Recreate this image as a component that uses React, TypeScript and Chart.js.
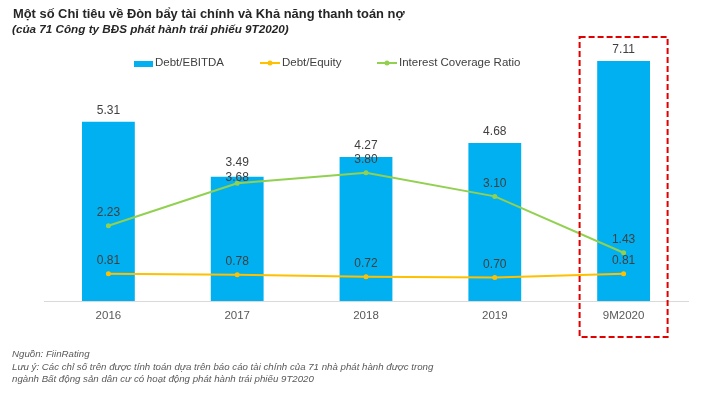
import React, { useEffect, useRef } from "react";
import { Chart, registerables } from "chart.js";

Chart.register(...registerables);

const categories = ["2016", "2017", "2018", "2019", "9M2020"];
const debtEbitda = [5.31, 3.68, 4.27, 4.68, 7.11];
const debtEquity = [0.81, 0.78, 0.72, 0.7, 0.81];
const interestCoverage = [2.23, 3.49, 3.8, 3.1, 1.43];
const seriesNames = ["Debt/EBITDA", "Debt/Equity", "Interest Coverage Ratio"];

const titleText = "Một số Chỉ tiêu về Đòn bẩy tài chính và Khả năng thanh toán nợ";
const subtitleText = "(của 71 Công ty BĐS phát hành trái phiếu 9T2020)";
const footLines = [
  "Nguồn: FiinRating",
  "Lưu ý: Các chỉ số trên được tính toán dựa trên báo cáo tài chính của 71 nhà phát hành được trong",
  "ngành Bất động sản dân cư có hoạt động phát hành trái phiếu 9T2020",
];

const FONT = "'Liberation Sans', Arial, sans-serif";
const BLUE = "#00b0f0";
const GOLD = "#ffc000";
const GREEN = "#92d050";

const decorPlugin = {
  id: "decor",
  afterDraw(chart: any) {
    const ctx = chart.ctx as CanvasRenderingContext2D;
    ctx.save();
    // Title
    ctx.textBaseline = "middle";
    ctx.textAlign = "left";
    ctx.fillStyle = "#262626";
    ctx.font = `bold 12.9px ${FONT}`;
    ctx.fillText(titleText, 13, 14);
    ctx.font = `italic bold 11.7px ${FONT}`;
    ctx.fillText(subtitleText, 12, 30);

    // Legend
    ctx.font = `11.5px ${FONT}`;
    ctx.fillStyle = BLUE;
    ctx.fillRect(134, 61, 19, 6);
    ctx.fillStyle = "#404040";
    ctx.fillText(seriesNames[0], 155, 63);

    const drawLineKey = (x: number, color: string, label: string) => {
      ctx.strokeStyle = color;
      ctx.lineWidth = 2;
      ctx.beginPath();
      ctx.moveTo(x, 63);
      ctx.lineTo(x + 20, 63);
      ctx.stroke();
      ctx.fillStyle = color;
      ctx.beginPath();
      ctx.arc(x + 10, 63, 2.5, 0, Math.PI * 2);
      ctx.fill();
      ctx.fillStyle = "#404040";
      ctx.fillText(label, x + 22, 63);
    };
    drawLineKey(260, GOLD, seriesNames[1]);
    drawLineKey(377, GREEN, seriesNames[2]);

    // Footnotes
    ctx.font = `italic 9.7px ${FONT}`;
    ctx.fillStyle = "#595959";
    const fy = [354, 367, 379];
    footLines.forEach((t, i) => ctx.fillText(t, 12, fy[i]));

    // Red dashed highlight around last category
    const xs = chart.scales.x;
    const cx = xs.getPixelForValue(categories.length - 1);
    ctx.strokeStyle = "#e00000";
    ctx.lineWidth = 2;
    ctx.setLineDash([6, 3]);
    ctx.strokeRect(cx - 44, 37, 88, 300);
    ctx.restore();
  },
};

// label offsets above element (px); per-point overrides keyed by dataset/index
const labelOffsets = [11, 13, 13];
const labelOverrides: Record<string, number> = { "0-1": -1, "2-1": 21 };

const labelPlugin = {
  id: "valueLabels",
  afterDatasetsDraw(chart: any) {
    const ctx = chart.ctx as CanvasRenderingContext2D;
    ctx.save();
    ctx.font = `12px ${FONT}`;
    ctx.fillStyle = "#404040";
    ctx.textAlign = "center";
    ctx.textBaseline = "middle";
    chart.data.datasets.forEach((ds: any, di: number) => {
      const meta = chart.getDatasetMeta(di);
      meta.data.forEach((el: any, i: number) => {
        const key = `${di}-${i}`;
        const off = key in labelOverrides ? labelOverrides[key] : labelOffsets[di];
        ctx.fillText((ds.data[i] as number).toFixed(2), el.x, el.y - off);
      });
    });
    ctx.restore();
  },
};

export default function App() {
  const ref = useRef<HTMLCanvasElement | null>(null);
  useEffect(() => {
    if (!ref.current) return;
    const chart = new Chart(ref.current, {
      type: "bar",
      data: {
        labels: categories,
        datasets: [
          {
            type: "bar",
            label: seriesNames[0],
            data: debtEbitda,
            backgroundColor: BLUE,
            barPercentage: 0.41,
            categoryPercentage: 1,
            order: 3,
          },
          {
            type: "line",
            label: seriesNames[1],
            data: debtEquity,
            borderColor: GOLD,
            backgroundColor: GOLD,
            borderWidth: 2,
            pointRadius: 2.5,
            pointBorderWidth: 0,
            tension: 0,
            order: 2,
          },
          {
            type: "line",
            label: seriesNames[2],
            data: interestCoverage,
            borderColor: GREEN,
            backgroundColor: GREEN,
            borderWidth: 2,
            pointRadius: 2.5,
            pointBorderWidth: 0,
            tension: 0,
            order: 1,
          },
        ] as any,
      },
      options: {
        responsive: false,
        animation: false,
        devicePixelRatio: 1,
        layout: { padding: { top: 31, left: 44, right: 22, bottom: 78 } },
        plugins: {
          legend: { display: false },
          title: { display: false },
          tooltip: { enabled: false },
        },
        scales: {
          x: {
            offset: true,
            grid: { display: false, drawTicks: false },
            border: { display: true, color: "#d9d9d9", width: 1 },
            ticks: {
              color: "#595959",
              font: { family: FONT, size: 11.5 },
              padding: 8,
            },
            afterFit: (scale: any) => {
              scale.height = 20;
            },
          },
          y: {
            display: false,
            min: 0,
            max: 8,
          },
        },
      },
      plugins: [labelPlugin, decorPlugin],
    });
    return () => chart.destroy();
  }, []);
  return (
    <div style={{ position: "absolute", left: 0, top: 0, width: 710, height: 399, background: "#fff" }}>
      <canvas ref={ref} width={710} height={399} />
    </div>
  );
}
